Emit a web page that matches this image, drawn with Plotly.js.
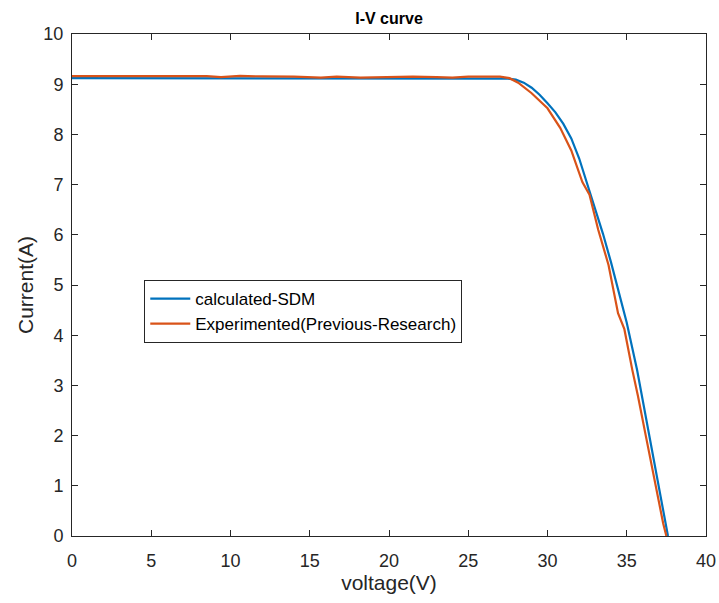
<!DOCTYPE html>
<html>
<head>
<meta charset="utf-8">
<script src="https://cdn.plot.ly/plotly-3.0.1.min.js"></script>
<style>html,body{margin:0;padding:0;background:#fff;}#chart{width:719px;height:603px;}</style>
</head>
<body>
<div id="chart"></div>
<script>
// Calculated single-diode-model curve
const vCalc = [0, 5, 10, 15, 20, 25, 27.5, 28.0, 28.5, 29.0, 29.5, 30.0, 30.5, 31.0, 31.5, 32.0, 32.4, 33.0, 33.5, 34.0, 34.5, 35.0, 35.65, 36.0, 36.5, 37.0, 37.6];
const iCalc = [9.12, 9.12, 9.12, 9.12, 9.12, 9.12, 9.11, 9.09, 9.03, 8.93, 8.79, 8.62, 8.44, 8.21, 7.92, 7.52, 7.13, 6.55, 6.02, 5.46, 4.87, 4.25, 3.31, 2.72, 1.87, 1.02, 0];

// Experimental (previous research) curve
const vExp = [0, 4, 8.5, 9.4, 10.6, 12, 14, 15.7, 16.7, 18.2, 20, 21.5, 23, 24, 25, 27.0, 27.6, 28.15, 29.0, 30.0, 30.8, 31.5, 32.2, 32.65, 33.2, 33.85, 34.45, 34.85, 35.35, 35.7, 36.2, 36.6, 36.94, 37.3, 37.5];
const iExp = [9.16, 9.16, 9.16, 9.14, 9.165, 9.155, 9.15, 9.13, 9.15, 9.13, 9.14, 9.15, 9.14, 9.13, 9.15, 9.15, 9.12, 9.03, 8.82, 8.52, 8.13, 7.68, 7.05, 6.80, 6.10, 5.40, 4.44, 4.12, 3.31, 2.80, 2.00, 1.35, 0.80, 0.25, 0];

const seriesNames = ['calculated-SDM', 'Experimented(Previous-Research)'];
const xTicks = [0, 5, 10, 15, 20, 25, 30, 35, 40];
const yTicks = [0, 1, 2, 3, 4, 5, 6, 7, 8, 9, 10];

const axisCol = '#262626';
const font = 'Liberation Sans, Arial, Helvetica, sans-serif';

const traces = [
  {x: vCalc, y: iCalc, name: seriesNames[0], type: 'scatter', mode: 'lines',
   line: {color: '#0072BD', width: 2.2}},
  {x: vExp, y: iExp, name: seriesNames[1], type: 'scatter', mode: 'lines',
   line: {color: '#D95319', width: 2.2}}
];

const axBase = {
  showgrid: false, zeroline: false, showline: true, mirror: 'ticks',
  linecolor: axisCol, linewidth: 1, ticks: 'inside', ticklen: 6, tickwidth: 1,
  tickcolor: axisCol, tickfont: {family: font, size: 18, color: axisCol}
};

const layout = {
  width: 719, height: 603,
  margin: {l: 71.5, r: 13, t: 34, b: 67},
  paper_bgcolor: '#fff', plot_bgcolor: '#fff',
  title: {text: '<b>I-V curve</b>', font: {family: font, size: 16, color: '#000'},
          x: 0.5, xref: 'paper', xanchor: 'center', y: 0.969, yanchor: 'middle'},
  xaxis: Object.assign({}, axBase, {range: [0, 40], tickvals: xTicks, ticklabelstandoff: 8,
    title: {text: 'voltage(V)', font: {family: font, size: 21, color: axisCol}, standoff: 0}}),
  yaxis: Object.assign({}, axBase, {range: [0, 10], tickvals: yTicks, ticklabelstandoff: 4,
    title: {text: 'Current(A)', font: {family: font, size: 21, color: axisCol}, standoff: 4}}),
  showlegend: true,
  legend: {x: 0.114, y: 0.51, xanchor: 'left', yanchor: 'top',
    bgcolor: '#fff', bordercolor: axisCol, borderwidth: 1,
    font: {family: font, size: 17, color: '#000'}, itemwidth: 40, tracegroupgap: 0}
};

Plotly.newPlot('chart', traces, layout, {displayModeBar: false, staticPlot: true});
</script>
</body>
</html>
